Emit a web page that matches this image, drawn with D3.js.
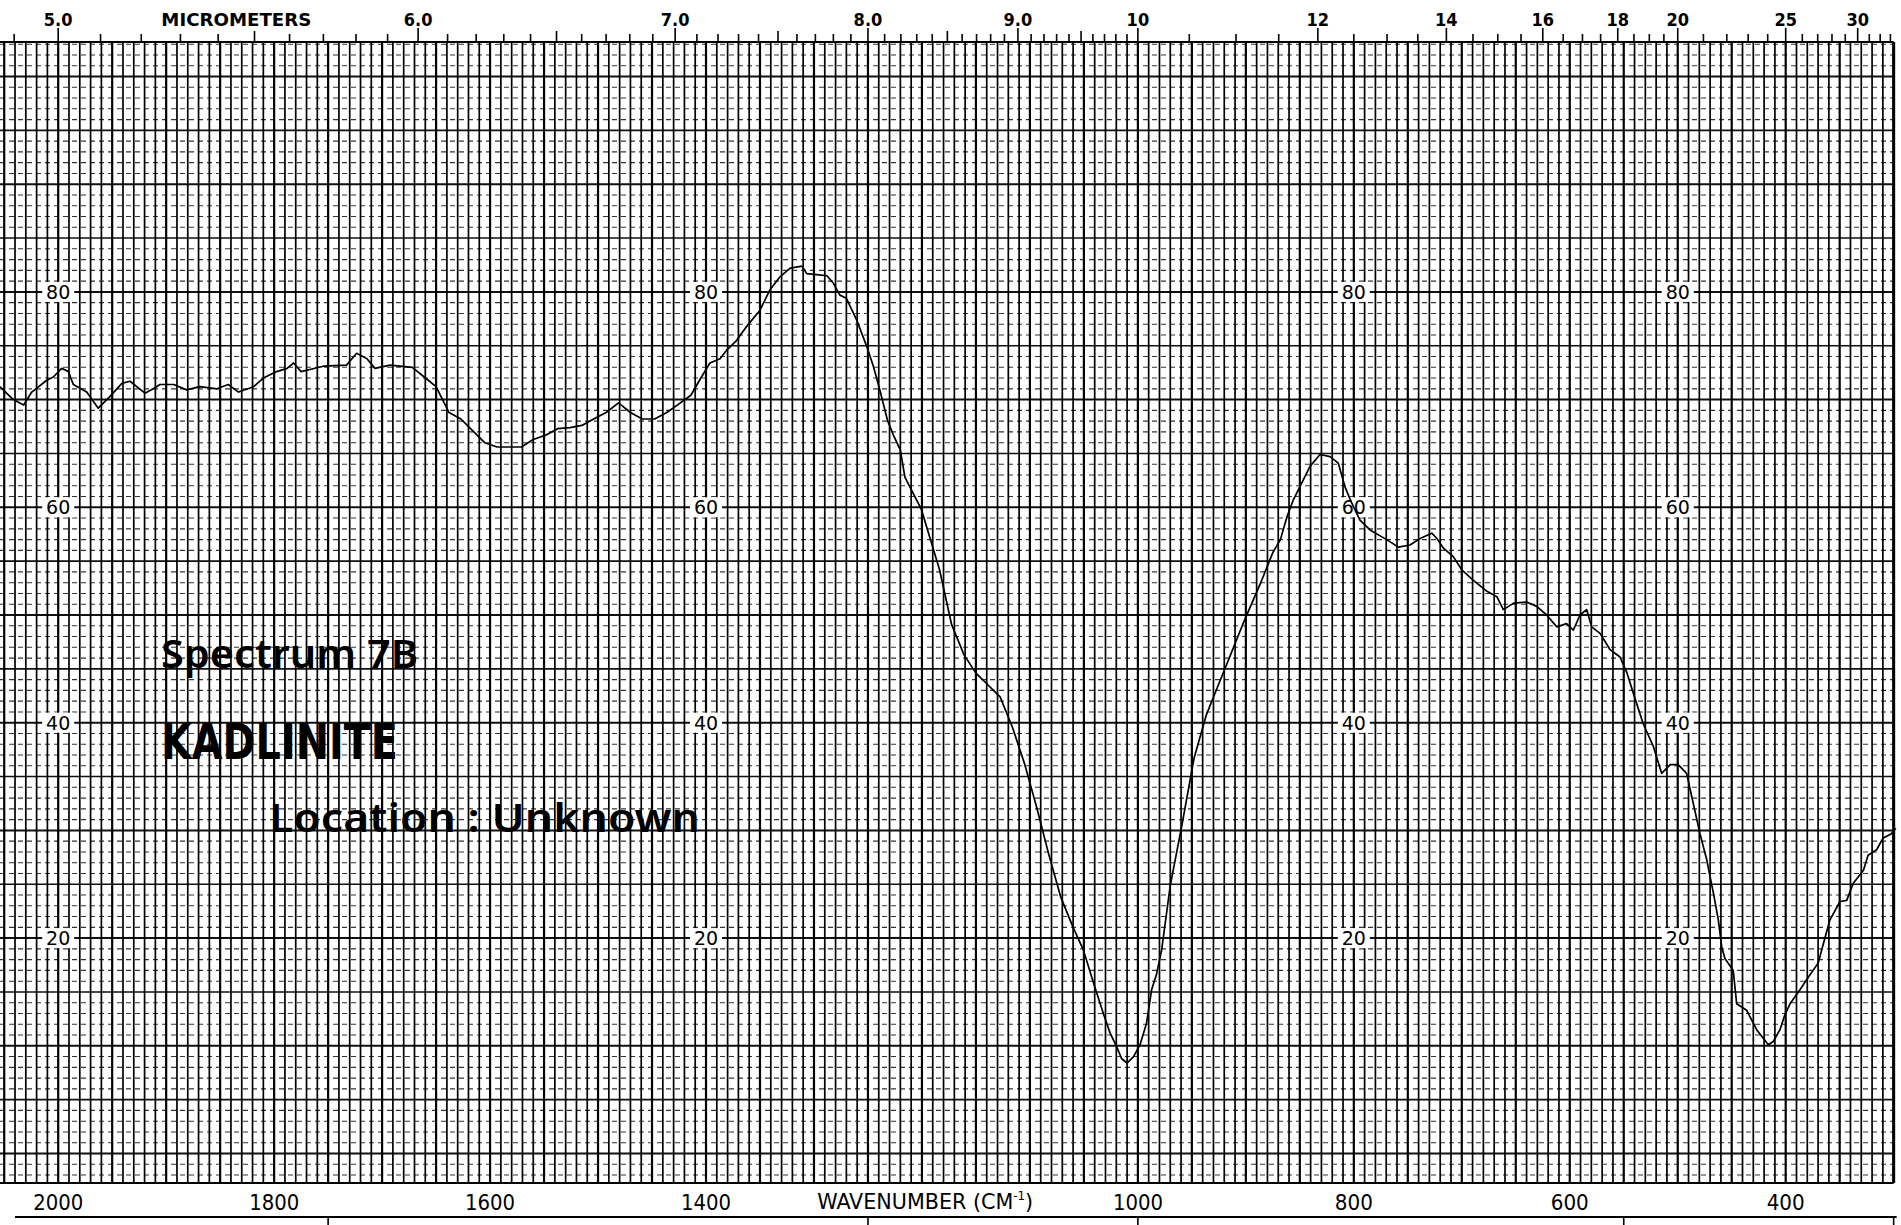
<!DOCTYPE html>
<html><head><meta charset="utf-8">
<script src="https://cdn.jsdelivr.net/npm/d3@7"></script>
<style>body{margin:0;background:#fff;overflow:hidden}</style>
</head><body>
<svg id="chart" width="1901" height="1225"></svg>
<script>
// ---- data ----
const wavenumbers = [2054,2041.6,2032,2024.5,2010.6,2004.5,1996.8,1990.6,1986,1973.6,1962.9,1952,1941,1933.5,1919.6,1912,1905.7,1893,1881,1868.7,1853,1842.5,1833,1819,1810,1797.6,1788,1782,1775,1754.5,1733,1723.6,1714,1706.6,1692.6,1672,1661,1650,1638,1627,1616,1605,1593.5,1582,1571,1560,1548.6,1537.4,1526,1515,1504,1492.5,1481,1470,1459,1447.6,1436.3,1425,1414,1406,1396.4,1387,1380.8,1371.6,1362.3,1350,1340.7,1331.5,1322,1311,1306.7,1297.5,1288,1282,1276,1270,1260.5,1251,1245,1239,1232,1226,1220,1215.8,1200.5,1183.7,1172.5,1161,1150,1138.8,1127.6,1116.3,1105,1093.9,1082.6,1071.4,1060,1050.5,1041,1032,1025.8,1019.6,1015,1010,1004,998,992,987.3,982.6,978,970,959,948,936.7,925.5,914.2,903,886.2,875,868,862,856,850,840.6,831.3,822,814.4,808.2,802,794.3,785,769.6,758.8,748,738.6,727.8,723,717,707.7,700,689,676.7,667.5,661.5,652,640,630.6,621.4,612,603,596.7,590.5,584.4,579.7,572,562.8,553.5,547.3,541,532,522.6,514.9,507,499.6,491.8,485.6,479.4,473.2,467,462.4,459.3,456.3,448.6,445.4,436.2,426.9,420.8,416.1,411.5,405.3,400.7,396,386.8,377.5,369.8,366.7,359,349.7,343.5,337.4,328,323.7,315.8,309.7,302,298];
const transmittance = [71.2,70.0,69.5,70.7,71.8,72.1,72.9,72.6,71.4,70.7,69.2,70.3,71.5,71.7,70.6,71.0,71.4,71.4,70.9,71.2,71.0,71.4,70.7,71.2,72.0,72.6,72.9,73.4,72.6,73.1,73.2,74.3,73.8,72.9,73.2,73.0,72.1,71.2,68.8,68.2,67.1,66.0,65.6,65.6,65.6,66.3,66.7,67.3,67.4,67.6,68.2,68.8,69.7,68.8,68.2,68.2,68.8,69.6,70.4,71.8,73.4,73.8,74.6,75.5,76.8,78.3,80.2,81.4,82.2,82.4,81.7,81.6,81.5,80.8,79.7,79.4,77.4,74.9,73.1,70.9,68.1,66.6,65.3,62.8,59.8,54.2,49.1,46.3,44.6,43.5,42.4,39.6,36.2,32.2,27.8,23.8,21.0,18.9,15.8,13.0,11.2,9.9,8.8,8.4,9.0,10.1,12.1,15.2,16.7,18.9,24.9,30.6,36.7,40.7,43.5,46.3,49.1,53.0,55.8,57.0,59.1,60.7,61.9,63.8,64.9,64.7,64.1,61.9,60.4,58.8,57.9,57.0,56.3,56.5,57.1,57.6,57.1,56.2,55.4,54.2,53.2,52.2,51.7,50.5,51.1,51.2,50.8,50.0,48.9,49.2,48.6,50.0,50.5,48.9,48.3,46.8,46.1,44.7,42.7,39.9,37.8,35.3,36.1,36.1,35.3,32.5,29.7,27.3,24.2,21.7,19.2,18.1,17.0,13.9,13.3,11.5,10.7,10.1,10.4,11.5,12.9,13.9,15.2,16.6,17.7,18.9,21.7,23.4,23.5,25.1,26.3,27.7,28.2,29.3,29.7,30.2];

const bottomTickValues = [2000,1800,1600,1400,1000,800,600,400];
const topLabelMicrons = [5,6,7,8,9,10,12,14,16,18,20,25,30];
const topLabelTexts = ["5.0","6.0","7.0","8.0","9.0","10","12","14","16","18","20","25","30"];
const yLabelValues = [80,60,40,20];
const yLabelColumns = [2000,1400,800,500];
const titleLines = ["Spectrum 7B","KADLINITE","Location : Unknown"];

// ---- scales ----
const svg = d3.select("#chart");
const x = d3.scaleLinear().domain([2000,400]).range([58.2,1785.7]);
const y = d3.scaleLinear().domain([0,100]).range([1153.5,76.5]);
const gridTop = 42, gridBottom = 1183;
const xRight = x(300), xLeft = 0;

svg.append("rect").attr("width",1901).attr("height",1225).attr("fill","#fff");

const grid = svg.append("g");
// horizontal grid: 1% dashed, 5% solid
d3.range(-2,104).forEach(t => {
  const yy = y(t);
  if (yy < gridTop || yy > gridBottom) return;
  const major = t % 5 === 0;
  grid.append("line").attr("x1",xLeft).attr("x2",xRight).attr("y1",yy).attr("y2",yy)
    .attr("stroke", major ? "#111" : "#333")
    .attr("stroke-width", major ? (t % 10 === 0 ? 2 : 1.6) : 1.1)
    .attr("stroke-dasharray", major ? null : "5,4");
});
// vertical grid every 10 cm-1
d3.range(2050,299,-10).forEach(w => {
  const xx = x(w);
  if (xx < xLeft || xx > xRight + 0.5) return;
  grid.append("line").attr("x1",xx).attr("x2",xx).attr("y1",gridTop).attr("y2",gridBottom)
    .attr("stroke","#000")
    .attr("stroke-width", w % 50 === 0 ? 2.2 : 1.7);
});
// borders
grid.append("line").attr("x1",xLeft).attr("x2",xRight).attr("y1",gridTop).attr("y2",gridTop).attr("stroke","#000").attr("stroke-width",2.2);
grid.append("line").attr("x1",xLeft).attr("x2",xRight).attr("y1",gridBottom).attr("y2",gridBottom).attr("stroke","#000").attr("stroke-width",2.2);
grid.append("line").attr("x1",xRight).attr("x2",xRight).attr("y1",gridTop).attr("y2",gridBottom).attr("stroke","#000").attr("stroke-width",3);

// top micrometer ticks
const minorMicrons = d3.range(48,100).map(v=>v/10)
  .concat(d3.range(20,40).map(v=>v/2))
  .concat(d3.range(20,34));
minorMicrons.forEach(m => {
  const xx = x(10000/m);
  if (xx < 2 || xx > xRight) return;
  const isLabel = topLabelMicrons.some(v => Math.abs(v-m) < 1e-6);
  const isHalf = Math.abs(m*2 - Math.round(m*2)) < 1e-6 && !isLabel;
  svg.append("line").attr("x1",xx).attr("x2",xx)
    .attr("y1", isLabel ? 28 : (isHalf && m < 10 ? 31 : 34)).attr("y2",gridTop)
    .attr("stroke","#000").attr("stroke-width",1.6);
});
topLabelMicrons.forEach((m,i) => {
  svg.append("text").attr("x",x(10000/m)).attr("y",26).attr("text-anchor","middle")
    .attr("font-family","DejaVu Sans Condensed, DejaVu Sans").attr("font-weight","bold")
    .attr("font-size",18).text(topLabelTexts[i]);
});
svg.append("text").attr("x",x(1835)).attr("y",26).attr("text-anchor","middle")
  .attr("font-family","DejaVu Sans Condensed, DejaVu Sans").attr("font-weight","bold")
  .attr("font-size",17).attr("textLength",150).attr("lengthAdjust","spacingAndGlyphs").text("MICROMETERS");

// bottom labels
bottomTickValues.forEach(v => {
  svg.append("text").attr("x",x(v)).attr("y",1210).attr("text-anchor","middle")
    .attr("font-family","DejaVu Sans Condensed, DejaVu Sans").attr("font-size",22)
    .attr("textLength", String(v).length === 4 ? 50 : 38).attr("lengthAdjust","spacingAndGlyphs").text(v);
});
const wl = svg.append("text").attr("x",x(1197)).attr("y",1209).attr("text-anchor","middle")
  .attr("font-family","DejaVu Sans Condensed, DejaVu Sans").attr("font-size",21)
  .attr("textLength",216).attr("lengthAdjust","spacingAndGlyphs");
wl.append("tspan").text("WAVENUMBER (CM");
wl.append("tspan").attr("font-size",12).attr("dy",-9).text("-1");
wl.append("tspan").attr("dy",9).text(")");

// bottom frame line with ticks
svg.append("line").attr("x1",x(2040)).attr("x2",xRight+3).attr("y1",1217).attr("y2",1217).attr("stroke","#000").attr("stroke-width",1.8);
[1750,1250,1000,550,300].forEach(w => {
  svg.append("line").attr("x1",x(w)).attr("x2",x(w)).attr("y1",1217).attr("y2",1225).attr("stroke","#000").attr("stroke-width",1.6);
});

// y labels in columns
yLabelColumns.forEach(w => {
  yLabelValues.forEach(v => {
    const cx = x(w), cy = y(v);
    svg.append("rect").attr("x",cx-16).attr("y",cy-10).attr("width",32).attr("height",20).attr("fill","#fff");
    svg.append("text").attr("x",cx).attr("y",cy+7).attr("text-anchor","middle")
      .attr("font-family","DejaVu Sans").attr("font-size",19).text(v);
  });
});

// spectrum
const pts = wavenumbers.map((w,i)=>[w,transmittance[i]]);
svg.append("path").datum(pts)
  .attr("d", d3.line().x(d=>x(d[0])).y(d=>y(d[1])))
  .attr("fill","none").attr("stroke","#000").attr("stroke-width",1.7).attr("stroke-linejoin","round");

// handwritten annotations
svg.append("text").attr("x",161).attr("y",668).attr("font-family","Noto Sans, DejaVu Sans")
  .attr("font-size",40).attr("font-weight","600").attr("textLength",257).attr("lengthAdjust","spacingAndGlyphs").text(titleLines[0]);
svg.append("text").attr("x",161).attr("y",759).attr("font-family","DejaVu Sans Condensed, DejaVu Sans")
  .attr("font-weight","bold").attr("font-size",50).attr("textLength",237).attr("lengthAdjust","spacingAndGlyphs").text(titleLines[1]);
svg.append("text").attr("x",269).attr("y",832).attr("font-family","Noto Sans, DejaVu Sans")
  .attr("font-size",40).attr("font-weight","600").attr("textLength",431).attr("lengthAdjust","spacingAndGlyphs").text(titleLines[2]);
</script>
</body></html>
